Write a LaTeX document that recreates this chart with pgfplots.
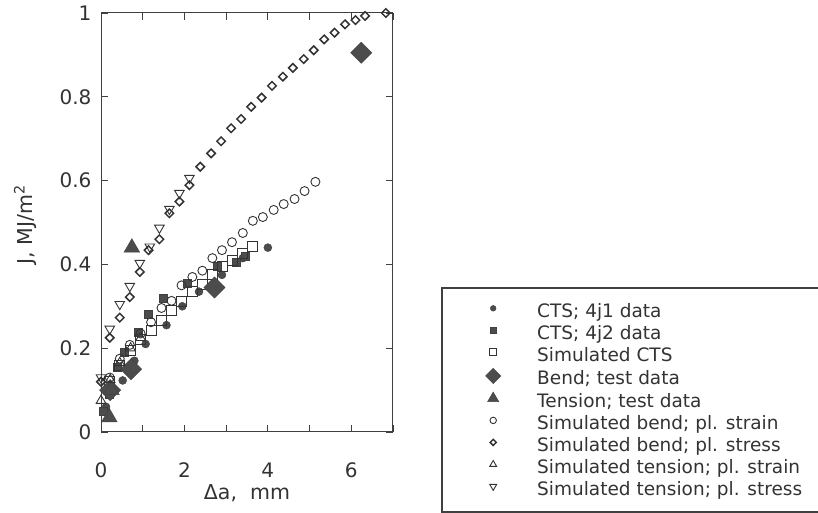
\documentclass[border=0pt]{standalone}
\usepackage{fontspec}
\setmainfont{DejaVu Sans}
\usepackage{pgfplots}
\pgfplotsset{compat=1.18}

\begin{document}
\begin{tikzpicture}
\useasboundingbox (0,0) rectangle (818pt,513pt);
\begin{axis}[
  at={(101pt,81pt)}, anchor=south west, scale only axis,
  width=292pt, height=419pt,
  xmin=0, xmax=7, ymin=0, ymax=1,
  xtick={0,1,2,3,4,5,6,7}, xticklabels={0,,2,,4,,6,},
  ytick={0,0.2,0.4,0.6,0.8,1},
  tick align=inside, major tick length=7pt,
  axis line style={black!75, line width=1pt},
  tick style={black!75, line width=0.9pt},
  /pgf/number format/assume math mode=true,
  tick label style={font=\fontsize{20}{22}\selectfont, text=black!80},
  xticklabel style={yshift=-27pt},
  yticklabel style={xshift=-6pt},
  xlabel={Δa,\ \ mm}, ylabel={J,\ MJ/m\textsuperscript{2}},
  label style={font=\fontsize{20.5}{24}\selectfont, text=black!80},
  xlabel style={at={(axis description cs:0.5,-0.145)}, anchor=center},
  ylabel style={at={(axis description cs:-0.26,0.494)}, anchor=center},
  legend style={at={(axis description cs:1.2055,0.31)}, anchor=north west,
    draw=none, fill=none, inner sep=0pt, row sep=0pt, column sep=0pt,
    font=\fontsize{18.5}{22}\selectfont, text=black!80,
    nodes={inner sep=0pt, text height=15pt, text depth=7pt}},
  legend cell align=left,
  legend image code/.code={\path[draw=none, fill=none] (-40pt,-2pt) rectangle (44pt,2pt);
    \draw[#1, every mark/.append style={scale=0.72}] plot coordinates {(0pt,5pt)};},
  clip=false,
]
% CTS; 4j1 data
\addplot[only marks, mark=*, mark size=4pt, draw=black!75, fill=black!70] coordinates {
(0.12,0.06)(0.22,0.10)(0.52,0.123)(0.80,0.17)(1.07,0.21)(1.57,0.255)(1.95,0.30)(2.35,0.335)(2.90,0.375)(3.40,0.415)(4.00,0.44)};
\addlegendentry{CTS; 4j1 data}
% CTS; 4j2 data
\addplot[only marks, mark=square*, mark size=4pt, draw=black!75, fill=black!70] coordinates {
(0.05,0.05)(0.20,0.09)(0.38,0.155)(0.55,0.19)(0.88,0.237)(1.14,0.28)(1.48,0.32)(2.07,0.356)(2.78,0.395)(3.24,0.405)(3.45,0.42)};
\addlegendentry{CTS; 4j2 data}
% Simulated CTS
\addplot[only marks, mark=square, mark size=5pt, draw=black!80, line width=0.9pt] coordinates {
(0.21,0.12)(0.45,0.16)(0.71,0.195)(0.95,0.222)(1.21,0.243)(1.45,0.267)(1.69,0.29)(1.93,0.312)(2.19,0.335)(2.43,0.353)(2.67,0.375)(2.90,0.394)(3.14,0.41)(3.38,0.427)(3.62,0.442)};
\addlegendentry{Simulated CTS}
% Bend; test data
\addplot[only marks, mark=square*, mark size=7.5pt, mark options={rotate=45}, draw=black!75, fill=black!70] coordinates {
(0.22,0.10)(0.72,0.15)(2.72,0.345)(6.24,0.905)};
\addlegendentry{Bend; test data}
% Tension; test data
\addplot[only marks, mark=triangle*, mark size=9pt, draw=black!75, fill=black!70] coordinates {
(0.20,0.035)(0.25,0.10)(0.74,0.44)};
\addlegendentry{Tension; test data}
% Simulated bend; pl. strain
\addplot[only marks, mark=o, mark size=4.5pt, draw=black!80, line width=0.9pt] coordinates {
(0.21,0.13)(0.45,0.175)(0.69,0.208)(0.95,0.235)(1.20,0.262)(1.45,0.296)(1.69,0.313)(1.93,0.35)(2.19,0.37)(2.43,0.385)(2.67,0.415)(2.90,0.434)(3.14,0.453)(3.40,0.475)(3.64,0.504)(3.88,0.513)(4.14,0.53)(4.38,0.544)(4.64,0.556)(4.88,0.575)(5.14,0.597)};
\addlegendentry{Simulated bend; pl. strain}
% Simulated bend; pl. stress
\addplot[only marks, mark=square, mark size=3pt, mark options={rotate=45}, draw=black!80, line width=1.5pt] coordinates {
(0,0.12)(0.21,0.225)(0.45,0.273)(0.69,0.322)(0.93,0.382)(1.14,0.434)(1.40,0.46)(1.64,0.522)(1.88,0.55)(2.12,0.589)(2.38,0.633)(2.64,0.665)(2.88,0.694)(3.12,0.725)(3.36,0.747)(3.60,0.776)(3.85,0.798)(4.10,0.826)(4.36,0.848)(4.60,0.869)(4.86,0.89)(5.10,0.911)(5.35,0.937)(5.60,0.953)(5.85,0.973)(6.10,0.983)(6.33,0.993)(6.83,1.0)};
\addlegendentry{Simulated bend; pl. stress}
% Simulated tension; pl. strain
\addplot[only marks, mark=triangle, mark size=5.5pt, draw=black!80, line width=0.9pt] coordinates {
(0,0.075)(0.22,0.125)(0.45,0.165)(0.71,0.20)(0.95,0.225)};
\addlegendentry{Simulated tension; pl. strain}
% Simulated tension; pl. stress
\addplot[only marks, mark=triangle, mark size=5.5pt, mark options={rotate=180}, draw=black!80, line width=0.9pt] coordinates {
(0,0.13)(0.21,0.246)(0.45,0.305)(0.69,0.348)(0.93,0.403)(1.17,0.442)(1.40,0.487)(1.64,0.532)(1.88,0.57)(2.12,0.606)};
\addlegendentry{Simulated tension; pl. stress}
\end{axis}
\draw[black!75, line width=1.3pt] (442pt,1pt) rectangle (850pt,225pt);
\end{tikzpicture}
\end{document}
